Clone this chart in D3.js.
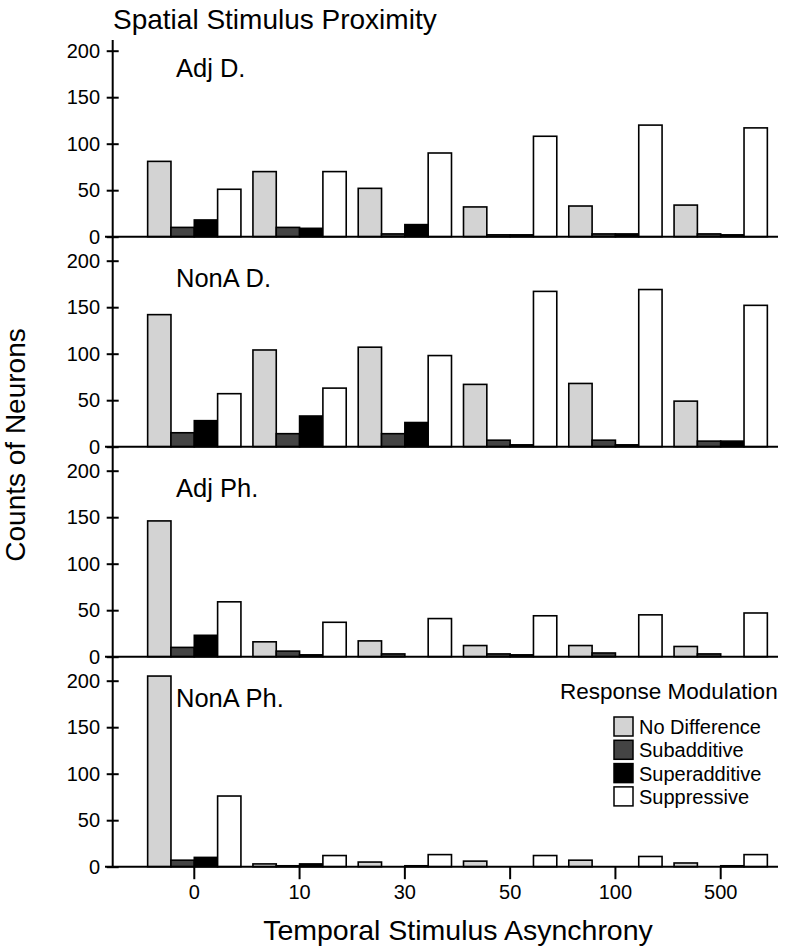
<!DOCTYPE html>
<html><head><meta charset="utf-8">
<script src="https://cdn.jsdelivr.net/npm/d3@7"></script>
<style>
body{margin:0;background:#fff}
svg{display:block}
text{font-family:"Liberation Sans",Arial,Helvetica,sans-serif;fill:#000}
</style>
</head><body><svg id="chart" width="802" height="952"></svg>
<script>
// ---- data ----
const categories = ["0","10","30","50","100","500"];
const seriesNames = ["No Difference","Subadditive","Superadditive","Suppressive"];
const seriesColors = ["#d3d3d3","#444444","#000000","#ffffff"];
const panelNames = ["Adj D.","NonA D.","Adj Ph.","NonA Ph."];
const yTickValues = [0,50,100,150,200];

// Adj D.
const adjD_noDiff = [81,70,52,32,33,34];
const adjD_sub    = [10,10,3,2,3,3];
const adjD_super  = [18,9,13,2,3,2];
const adjD_supp   = [51,70,90,108,120,117];
// NonA D.
const nonaD_noDiff = [142,104,107,67,68,49];
const nonaD_sub    = [15,14,14,7,7,6];
const nonaD_super  = [28,33,26,2,2,6];
const nonaD_supp   = [57,63,98,167,169,152];
// Adj Ph.
const adjPh_noDiff = [146,16,17,12,12,11];
const adjPh_sub    = [10,6,3,3,4,3];
const adjPh_super  = [23,2,0,2,0,0];
const adjPh_supp   = [59,37,41,44,45,47];
// NonA Ph.
const nonaPh_noDiff = [205,3,5,6,7,4];
const nonaPh_sub    = [7,1,0,0,0,0];
const nonaPh_super  = [10,3,1,0,0,1];
const nonaPh_supp   = [76,12,13,12,11,13];

const panels = [
  [adjD_noDiff, adjD_sub, adjD_super, adjD_supp],
  [nonaD_noDiff, nonaD_sub, nonaD_super, nonaD_supp],
  [adjPh_noDiff, adjPh_sub, adjPh_super, adjPh_supp],
  [nonaPh_noDiff, nonaPh_sub, nonaPh_super, nonaPh_supp]
];

// ---- layout ----
const svg = d3.select("#chart");
const axisX = 112.7;
const baseLeft = 105, baseRight = 778;
const panelStep = 210;
const base0 = 236.7, top0 = 50.7;

const x = d3.scaleBand().domain(categories).range([141.65, 773.35])
  .paddingInner(0.114).paddingOuter(0.057);
const xs = d3.scaleBand().domain(seriesNames).range([0, x.bandwidth()]).padding(0);

// title
svg.append("text").attr("x", 113).attr("y", 29.3).attr("font-size", 28)
  .text("Spatial Stimulus Proximity");

// continuous y axis line
svg.append("line").attr("x1", axisX).attr("x2", axisX)
  .attr("y1", 40).attr("y2", base0 + panelStep * 3)
  .attr("stroke", "#000").attr("stroke-width", 2);

panels.forEach((series, pi) => {
  const yb = base0 + pi * panelStep, yt = top0 + pi * panelStep;
  const y = d3.scaleLinear().domain([0, 200]).range([yb, yt]);
  const g = svg.append("g");

  series.forEach((vals, si) => {
    g.selectAll(null).data(vals.map((v, ci) => ({v, c: categories[ci]})).filter(d => d.v > 0))
      .join("rect")
      .attr("x", d => x(d.c) + xs(seriesNames[si]))
      .attr("width", xs.bandwidth())
      .attr("y", d => y(d.v))
      .attr("height", d => y(0) - y(d.v))
      .attr("fill", seriesColors[si])
      .attr("stroke", "#000").attr("stroke-width", 1.6);
  });

  g.append("line").attr("x1", baseLeft).attr("x2", baseRight)
    .attr("y1", yb).attr("y2", yb).attr("stroke", "#000").attr("stroke-width", 2);

  const ya = g.append("g").attr("transform", `translate(${axisX},0)`)
    .call(d3.axisLeft(y).tickValues(yTickValues).tickSize(6).tickPadding(6.7));
  ya.select(".domain").remove();
  ya.selectAll(".tick line").attr("x1", 6).attr("stroke-width", 2);
  ya.selectAll(".tick text").attr("font-size", 20).attr("font-family", null);

  g.append("text").attr("x", 176).attr("y", 76.7 + pi * panelStep)
    .attr("font-size", 25.5).text(panelNames[pi]);

  if (pi === panels.length - 1) {
    const xa = g.append("g").attr("transform", `translate(0,${yb})`)
      .call(d3.axisBottom(x).tickSize(12.5).tickPadding(6));
    xa.select(".domain").remove();
    xa.selectAll(".tick line").attr("stroke-width", 2);
    xa.selectAll(".tick text").attr("font-size", 20).attr("font-family", null);
  }
});

svg.append("text").attr("x", 458).attr("y", 940).attr("text-anchor", "middle")
  .attr("font-size", 28.5).text("Temporal Stimulus Asynchrony");
svg.append("text").attr("transform", "translate(25,445) rotate(-90)")
  .attr("text-anchor", "middle").attr("font-size", 28).text("Counts of Neurons");

const lg = svg.append("g");
lg.append("text").attr("x", 560).attr("y", 699.3).attr("font-size", 22.5)
  .text("Response Modulation");
seriesNames.forEach((name, i) => {
  lg.append("rect").attr("x", 614).attr("y", 717 + i * 23.3)
    .attr("width", 19).attr("height", 19)
    .attr("fill", seriesColors[i]).attr("stroke", "#000").attr("stroke-width", 1.5);
  lg.append("text").attr("x", 639).attr("y", 734 + i * 23.3)
    .attr("font-size", 20).text(name);
});
</script>
</body></html>
